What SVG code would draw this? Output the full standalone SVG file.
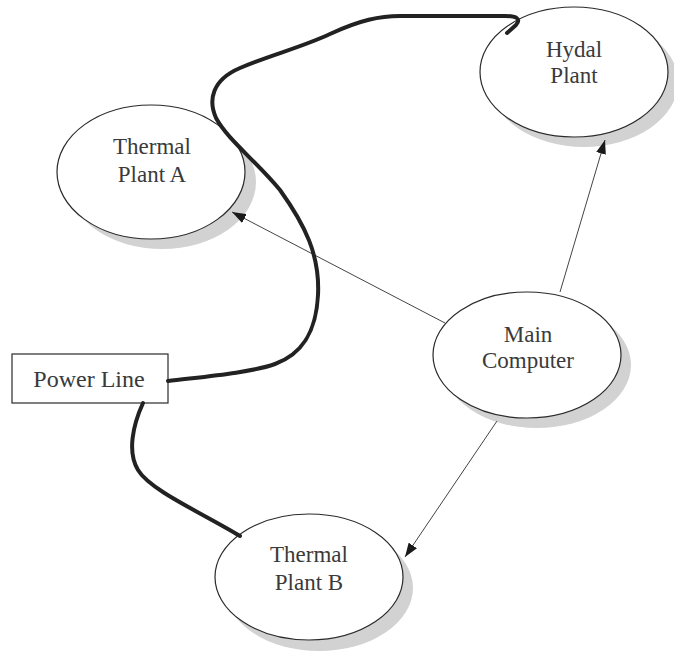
<svg xmlns="http://www.w3.org/2000/svg" width="674" height="654" viewBox="0 0 674 654">
<style>
.shadow{fill:#d2d2d2;stroke:none}
.node{fill:#fff;stroke:#2a2a2a;stroke-width:1.2}
.lbl{font-family:"Liberation Serif","Times New Roman",serif;font-size:23px;fill:#3a3a3a;text-anchor:middle}
.arrow{stroke:#444;stroke-width:1;fill:none;marker-end:url(#ah)}
.power{stroke:#222;stroke-width:4;fill:none;stroke-linecap:round;stroke-linejoin:round}
</style>
<defs>
<marker id="ah" viewBox="0 0 14 10" refX="14" refY="5" markerWidth="14" markerHeight="10" markerUnits="userSpaceOnUse" orient="auto">
<path d="M0,0 L14,5 L0,10 Z" fill="#1a1a1a"/>
</marker>
</defs>
<rect width="674" height="654" fill="#fff"/>
<g id="thermal-a">
<ellipse class="shadow" cx="162" cy="182" rx="94" ry="67"/>
<ellipse class="node" cx="151" cy="172" rx="94" ry="67"/>
<text class="lbl" x="152" y="154">Thermal</text>
<text class="lbl" x="152" y="182">Plant A</text>
</g>
<g id="hydal">
<ellipse class="shadow" cx="584" cy="82" rx="94" ry="65"/>
<ellipse class="node" cx="574" cy="72" rx="94" ry="65"/>
<text class="lbl" x="574" y="57">Hydal</text>
<text class="lbl" x="574" y="83">Plant</text>
</g>
<g id="main-computer">
<ellipse class="shadow" cx="537" cy="365" rx="94" ry="63"/>
<ellipse class="node" cx="527" cy="355" rx="94" ry="63"/>
<text class="lbl" x="528" y="342">Main</text>
<text class="lbl" x="528" y="368">Computer</text>
</g>
<g id="thermal-b">
<ellipse class="shadow" cx="319" cy="588" rx="94" ry="63"/>
<ellipse class="node" cx="309" cy="577" rx="94" ry="63"/>
<text class="lbl" x="309" y="562">Thermal</text>
<text class="lbl" x="309" y="590">Plant B</text>
</g>
<g id="power-line">
<rect x="12" y="354" width="156" height="49" fill="#fff" stroke="#2a2a2a" stroke-width="1.2"/>
<text class="lbl" x="89" y="387" style="font-size:24px">Power Line</text>
</g>
<g id="connectors">
<line class="arrow" x1="445" y1="323" x2="232" y2="212"/>
<line class="arrow" x1="560" y1="292" x2="605" y2="140"/>
<line class="arrow" x1="497" y1="421" x2="405" y2="557"/>
<path class="power" d="M168,381 C200,377 250,373 275,364 C300,355 316,335 318,295 C320,255 305,225 280,190 C255,160 228,140 216,118 C208,100 212,80 240,68 C270,55 300,48 330,34 C360,20 380,16 400,16 L505,16 C515,16 522,18 516,25 L507,33"/>
<path class="power" d="M143,403 C133,425 127,452 138,470 C150,490 200,512 240,536"/>
</g>
</svg>
